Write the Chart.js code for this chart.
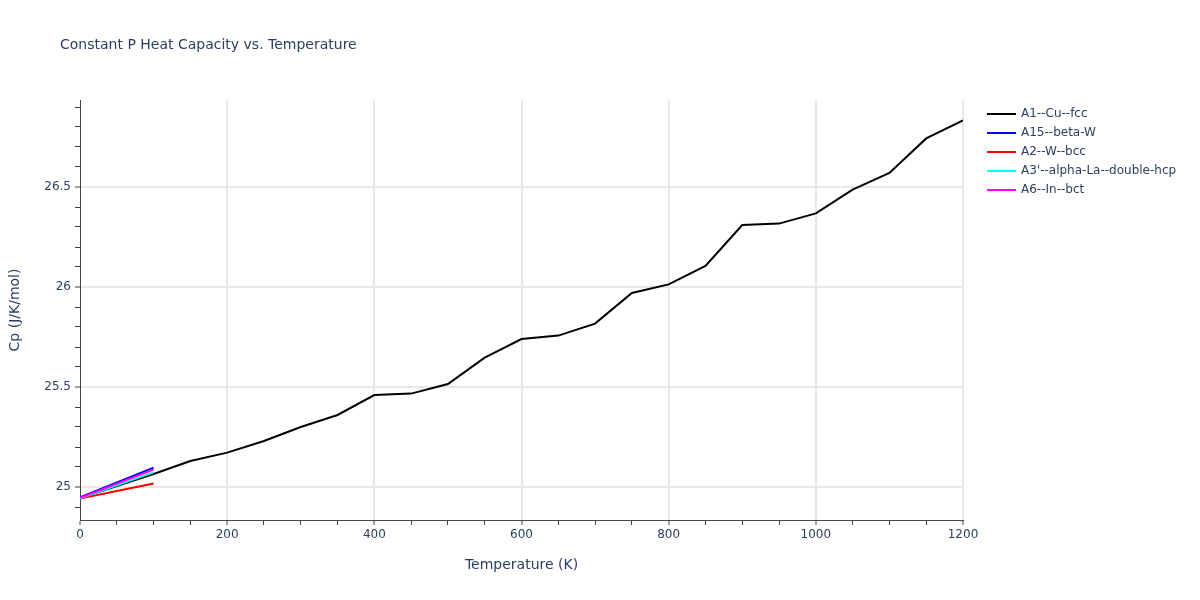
<!DOCTYPE html>
<html>
<head>
<meta charset="utf-8">
<script src="https://cdn.jsdelivr.net/npm/chart.js@4.4.1/dist/chart.umd.min.js"></script>
<style>
  html, body { margin: 0; padding: 0; background: #ffffff; }
  #wrap { width: 1200px; height: 600px; position: relative; }
</style>
</head>
<body>
<div id="wrap"><canvas id="c" width="1200" height="600"></canvas></div>
<script>
// ---- data ----
const tempA1 = [0, 100, 150, 200, 250, 300, 350, 400, 450, 500, 550, 600, 650, 700, 750, 800, 850, 900, 950, 1000, 1050, 1100, 1150, 1200];
const cpA1 = [24.945, 25.065, 25.13, 25.172, 25.23, 25.30, 25.36, 25.46, 25.467, 25.515, 25.647, 25.74, 25.757, 25.817, 25.97, 26.013, 26.105, 26.31, 26.317, 26.368, 26.487, 26.57, 26.743, 26.833];
const tempShort = [0, 100];
const cpA15 = [24.948, 25.097];
const cpA2 = [24.942, 25.017];
const cpA3 = [24.944, 25.073];
const cpA6 = [24.946, 25.087];

const seriesNames = ["A1--Cu--fcc", "A15--beta-W", "A2--W--bcc", "A3'--alpha-La--double-hcp", "A6--In--bct"];
const seriesColors = ["#000000", "#0000ff", "#ff0000", "#00ffff", "#ff00ff"];

const xTicks = [0, 50, 100, 150, 200, 250, 300, 350, 400, 450, 500, 550, 600, 650, 700, 750, 800, 850, 900, 950, 1000, 1050, 1100, 1150, 1200];
const xLabelValues = [0, 200, 400, 600, 800, 1000, 1200];
const yTicks = [24.9, 25.0, 25.1, 25.2, 25.3, 25.4, 25.5, 25.6, 25.7, 25.8, 25.9, 26.0, 26.1, 26.2, 26.3, 26.4, 26.5, 26.6, 26.7, 26.8, 26.9];
const yLabelValues = [25, 25.5, 26, 26.5];
const yLabelTexts = ["25", "25.5", "26", "26.5"];

const titleText = "Constant P Heat Capacity vs. Temperature";
const xTitle = "Temperature (K)";
const yTitle = "Cp (J/K/mol)";

// ---- helpers ----
const FONT = '"DejaVu Sans", Verdana, sans-serif';
const TEXT = '#2a3f5f';
const GRID = '#e8e8e8';
const near = (a, b) => Math.abs(a - b) < 1e-6;
const isIn = (v, arr) => arr.some(a => near(a, v));

function toPoints(xs, ys) { return xs.map((x, i) => ({ x: x, y: ys[i] })); }

const allData = [
  toPoints(tempA1, cpA1),
  toPoints(tempShort, cpA15),
  toPoints(tempShort, cpA2),
  toPoints(tempShort, cpA3),
  toPoints(tempShort, cpA6)
];

const datasets = allData.map((d, i) => ({
  label: seriesNames[i],
  data: d,
  borderColor: seriesColors[i],
  backgroundColor: seriesColors[i],
  borderWidth: 2,
  pointRadius: 0,
  pointHoverRadius: 0,
  tension: 0,
  fill: false,
  order: seriesNames.length - i
}));

const overlay = {
  id: 'overlay',
  afterDraw(chart) {
    const ctx = chart.ctx;
    ctx.save();
    // title
    ctx.fillStyle = TEXT;
    ctx.font = '14px ' + FONT;
    ctx.textAlign = 'left';
    ctx.textBaseline = 'middle';
    ctx.fillText(titleText, 60, 45);
    // legend
    ctx.font = '12px ' + FONT;
    seriesNames.forEach((n, i) => {
      const y = 114 + i * 19;
      ctx.strokeStyle = seriesColors[i];
      ctx.lineWidth = 2;
      ctx.beginPath();
      ctx.moveTo(987, y);
      ctx.lineTo(1016, y);
      ctx.stroke();
      ctx.fillStyle = TEXT;
      ctx.fillText(n, 1021, y);
    });
    ctx.restore();
  }
};

new Chart(document.getElementById('c'), {
  type: 'line',
  data: { datasets: datasets },
  options: {
    responsive: false,
    animation: false,
    devicePixelRatio: 1,
    layout: { padding: { left: 0, right: 237, top: 100, bottom: 0 } },
    plugins: {
      legend: { display: false },
      title: { display: false },
      tooltip: { enabled: false }
    },
    scales: {
      x: {
        type: 'linear',
        min: 0,
        max: 1200,
        afterBuildTicks: (s) => { s.ticks = xTicks.map(v => ({ value: v })); },
        afterFit: (s) => { s.height = 80; },
        ticks: {
          autoSkip: false,
          maxRotation: 0,
          padding: 3,
          color: TEXT,
          font: { family: FONT, size: 12 },
          callback: (v) => isIn(v, xLabelValues) ? String(v) : ''
        },
        grid: {
          drawOnChartArea: true,
          drawTicks: true,
          tickLength: 5,
          lineWidth: (c) => (c.tick && isIn(c.tick.value, xLabelValues)) ? 2 : 1,
          tickWidth: 1,
          color: (c) => (c.tick && isIn(c.tick.value, xLabelValues) && !near(c.tick.value, 0)) ? GRID : 'rgba(0,0,0,0)',
          tickColor: '#444444'
        },
        border: { display: true, color: '#444444', width: 1 },
        title: {
          display: true,
          text: xTitle,
          color: TEXT,
          font: { family: FONT, size: 14 },
          padding: { top: 0, bottom: 26 }
        }
      },
      y: {
        type: 'linear',
        min: 24.835,
        max: 26.935,
        afterBuildTicks: (s) => { s.ticks = yTicks.map(v => ({ value: v })); },
        afterFit: (s) => { s.width = 80; },
        ticks: {
          autoSkip: false,
          padding: 4,
          color: TEXT,
          font: { family: FONT, size: 12 },
          callback: (v) => {
            const k = yLabelValues.findIndex(a => near(a, v));
            return k >= 0 ? yLabelTexts[k] : '';
          }
        },
        grid: {
          drawOnChartArea: true,
          drawTicks: true,
          tickLength: 5,
          lineWidth: (c) => (c.tick && isIn(c.tick.value, yLabelValues)) ? 2 : 1,
          tickWidth: 1,
          color: (c) => (c.tick && isIn(c.tick.value, yLabelValues)) ? GRID : 'rgba(0,0,0,0)',
          tickColor: '#444444'
        },
        border: { display: true, color: '#444444', width: 1 },
        title: {
          display: true,
          text: yTitle,
          color: TEXT,
          font: { family: FONT, size: 14 },
          padding: { top: 7, bottom: 0 }
        }
      }
    }
  },
  plugins: [overlay]
});
</script>
</body>
</html>
